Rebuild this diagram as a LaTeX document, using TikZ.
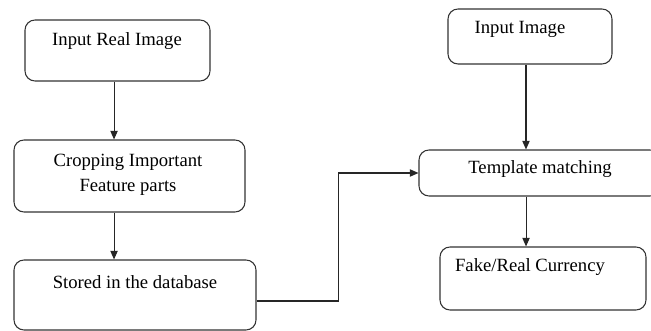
\documentclass[tikz,border=0pt]{standalone}
\usepackage{fontspec}
\setmainfont{Liberation Serif}
\usetikzlibrary{arrows.meta}

\tikzset{
  box/.style={draw=black!80, line width=0.8pt, rounded corners=7.5pt, inner sep=0pt},
  label/.style={inner sep=0.75pt, align=center, font=\fontsize{14}{18.75}\selectfont},
  arr/.style={draw=black!85, line width=0.8pt, -{Triangle[length=6.5pt,width=5.5pt]}}
}

\begin{document}
\begin{tikzpicture}[x=0.75pt,y=0.75pt,yscale=-1,xscale=1]
\useasboundingbox (0,0) rectangle (651,331);

%Boxes
\node [box, minimum width=138.75pt, minimum height=45.75pt] (in1) at (117.5,50.5) {};
\node [box, minimum width=173.25pt, minimum height=54pt] (crop) at (129.5,176) {};
\node [box, minimum width=181.5pt, minimum height=52.5pt] (store) at (135,295) {};
\node [box, minimum width=123pt, minimum height=41.25pt] (in2) at (530,36.5) {};
\node [box, minimum width=180.75pt, minimum height=34.5pt] (tmatch) at (539.5,173) {};
\node [box, minimum width=154.5pt, minimum height=47.25pt] (result) at (543,278.5) {};

% Text Node
\node [label] (in1txt) at (117,41) {Input Real Image};
% Text Node
\node [label] (croptxt) at (128,174.5) {Cropping Important\\Feature parts};
% Text Node
\node [label] (storetxt) at (135,282) {Stored in the database};
% Text Node
\node [label] (in2txt) at (520,29) {Input Image};
% Text Node
\node [label] (tmatchtxt) at (540,169) {Template matching};
% Text Node
\node [label] (resulttxt) at (530,267) {Fake/Real Currency};

%Connectors
\draw [arr] ([xshift=-2.6pt]in1.south) -- ([xshift=-2.6pt]in1.south |- crop.north);
\draw [arr] ([xshift=-11.6pt]crop.south) -- ([xshift=-11.6pt]crop.south |- store.north);
\draw [arr] ([xshift=-3pt]in2.south) -- ([xshift=-3pt]in2.south |- tmatch.north);
\draw [arr] ([xshift=-10.1pt]tmatch.south) -- ([xshift=-10.1pt]tmatch.south |- result.north);
\draw [arr] ([yshift=4.5pt]store.east) -- ++(82,0) |- (tmatch.west);

\end{tikzpicture}
\end{document}
